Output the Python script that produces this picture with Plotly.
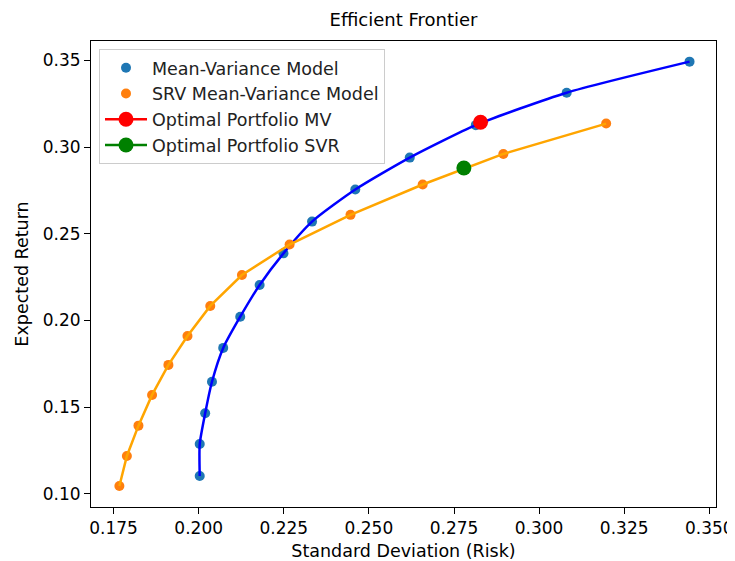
import plotly.graph_objects as go

# Mean-Variance efficient frontier (risk, return)
mv_risk = [0.2003, 0.2003, 0.2019, 0.2039, 0.2072, 0.2122, 0.2179, 0.2249,
           0.2333, 0.2460, 0.2620, 0.2814, 0.3081, 0.3442]
mv_return = [0.1104, 0.1288, 0.1465, 0.1647, 0.1842, 0.2022, 0.2205, 0.2387,
             0.2570, 0.2755, 0.2939, 0.3126, 0.3313, 0.3492]

# SRV Mean-Variance frontier
srv_risk = [0.1767, 0.1789, 0.1823, 0.1863, 0.1911, 0.1967, 0.2034, 0.2127,
            0.2267, 0.2446, 0.2658, 0.2895, 0.3197]
srv_return = [0.1046, 0.1219, 0.1394, 0.1571, 0.1744, 0.1911, 0.2084, 0.2262,
              0.2438, 0.2609, 0.2784, 0.2960, 0.3135]

# Optimal portfolios
opt_mv = (0.2828, 0.3143)
opt_svr = (0.2779, 0.2879)

FONT = "DejaVu Sans"
FS = 17.5
TFS = 17
# page body has an 8px default margin, so the figure is drawn 8px in from the top-left
W, H = 727, 553
L, R, T, B = 83, 19, 33, 54

fig = go.Figure()

fig.add_trace(go.Scatter(x=mv_risk, y=mv_return, mode="markers", name="Mean-Variance Model",
                         marker=dict(color="#1f77b4", size=10)))
fig.add_trace(go.Scatter(x=mv_risk, y=mv_return, mode="lines", showlegend=False,
                         line=dict(color="blue", width=2.5, shape="spline", smoothing=0.6)))
fig.add_trace(go.Scatter(x=srv_risk, y=srv_return, mode="markers", name="SRV Mean-Variance Model",
                         marker=dict(color="#ff7f0e", size=10)))
fig.add_trace(go.Scatter(x=srv_risk, y=srv_return, mode="lines", showlegend=False,
                         line=dict(color="orange", width=2.5)))
fig.add_trace(go.Scatter(x=[opt_mv[0]], y=[opt_mv[1]], mode="lines+markers", name="Optimal Portfolio MV",
                         marker=dict(color="red", size=15), line=dict(color="red", width=2.5)))
fig.add_trace(go.Scatter(x=[opt_svr[0]], y=[opt_svr[1]], mode="lines+markers", name="Optimal Portfolio SVR",
                         marker=dict(color="green", size=15), line=dict(color="green", width=2.5)))

axis_common = dict(showline=True, linecolor="black", linewidth=1, mirror=True,
                   ticks="outside", ticklen=6, tickwidth=1, tickcolor="black",
                   showgrid=False, zeroline=False, automargin=False,
                   tickfont=dict(family=FONT, size=TFS, color="black"))

fig.update_xaxes(range=[0.16836, 0.35197], tick0=0.175, dtick=0.025, tickformat=".3f",
                 title=dict(text="Standard Deviation (Risk)", font=dict(family=FONT, size=FS, color="black"),
                            standoff=8),
                 **axis_common)
fig.update_yaxes(range=[0.0925, 0.3611], tick0=0.10, dtick=0.05, tickformat=".2f",
                 title=dict(text="Expected Return", font=dict(family=FONT, size=FS, color="black"),
                            standoff=9),
                 **axis_common)

fig.update_layout(
    width=W, height=H,
    margin=dict(l=L, r=R, t=T, b=B),
    paper_bgcolor="white", plot_bgcolor="white",
    font=dict(family=FONT, size=FS, color="black"),
    title=dict(text="Efficient Frontier", x=0.5, xref="paper", xanchor="center",
               y=1 - 12 / H, yanchor="middle", font=dict(family=FONT, size=18, color="black")),
    legend=dict(x=0.0128, y=0.983, xanchor="left", yanchor="top", itemwidth=42,
                bgcolor="rgba(255,255,255,0.8)", bordercolor="#cccccc", borderwidth=1,
                font=dict(family=FONT, size=FS, color="#222222")),
    showlegend=True,
)

fig.write_html("out.html")
